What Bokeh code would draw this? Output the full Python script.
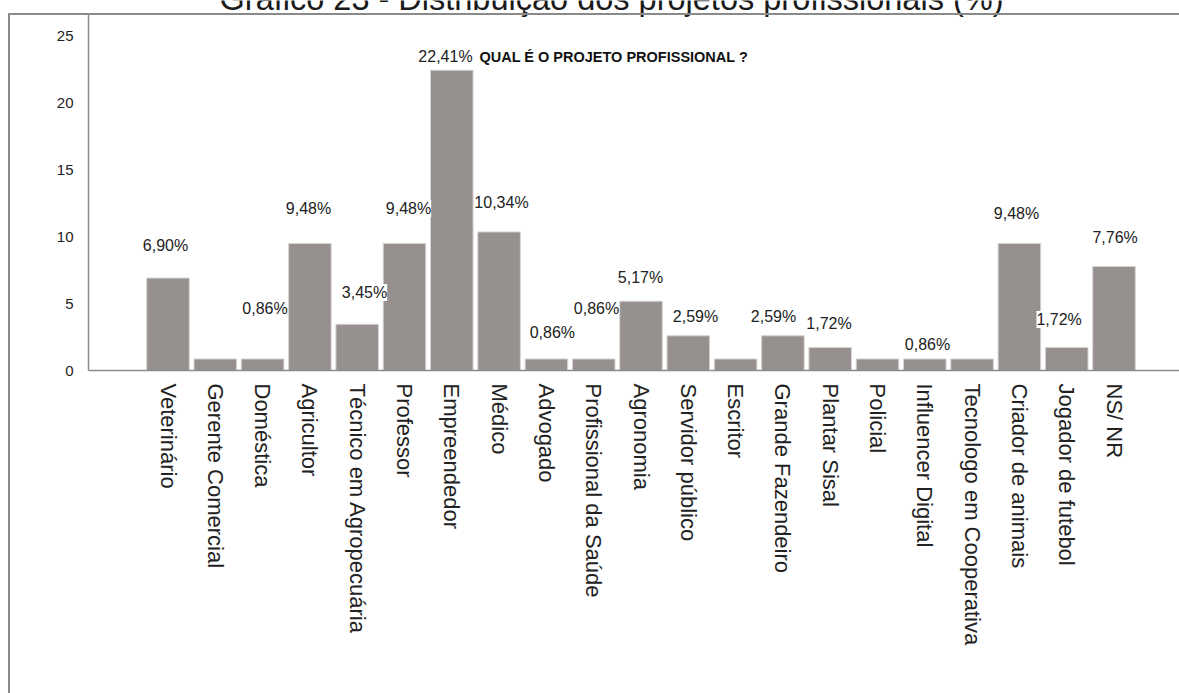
import math
from bokeh.plotting import figure
from bokeh.models import (ColumnDataSource, LabelSet, Label, FixedTicker,
                          Range1d, InlineStyleSheet)
from bokeh.core.properties import value
from bokeh.embed import file_html
from bokeh.resources import INLINE

# ---------------- data ----------------
categories = ["Veterinário", "Gerente Comercial", "Doméstica", "Agricultor",
              "Técnico em Agropecuária", "Professor", "Empreendedor", "Médico",
              "Advogado", "Profissional da Saúde", "Agronomia", "Servidor público",
              "Escritor", "Grande Fazendeiro", "Plantar Sisal", "Policial",
              "Influencer Digital", "Tecnologo em Cooperativa", "Criador de animais",
              "Jogador de futebol", "NS/ NR"]
percent = [6.90, 0.86, 0.86, 9.48, 3.45, 9.48, 22.41, 10.34, 0.86, 0.86, 5.17,
           2.59, 0.86, 2.59, 1.72, 0.86, 0.86, 0.86, 9.48, 1.72, 7.76]
shown = [True, False, True, True, True, True, True, True, True, True, True,
         True, False, True, True, False, True, False, True, True, True]
y_ticks = [0, 5, 10, 15, 20, 25]
title_text = "Gráfico 23 - Distribuição dos projetos profissionais (%)"
inner_title = "QUAL É O PROJETO PROFISSIONAL ?"

# ---------------- layout (pixels) ----------------
W, H = 1179, 693
FRAME_LEFT, AXIS_TOP, FRAME_BOTTOM = 88, 14, 370
X0_PX, X_STEP = 167.5, 47.3      # centre of first bar, bar spacing
Y_STEP = 13.4                    # pixels per percentage point

# label offsets in screen pixels (dx right, dy up) by category index
label_offsets = {0: (-2.5, 32.5), 2: (2.4, 50.5), 3: (-1.4, 35), 4: (7.3, 31.8),
                 5: (4, 35), 6: (-6.3, 13.7), 7: (2.4, 29.4), 8: (6, 26.5),
                 9: (2.8, 50.5), 10: (-0.5, 23.7), 11: (7.2, 19.3), 13: (-9.4, 19.3),
                 14: (-1.2, 24), 16: (2.7, 14.5), 18: (-2.9, 30), 19: (-7.6, 28),
                 20: (1.1, 29)}


def px_x(px):
    return (px - X0_PX) / X_STEP


def px_y(py):
    return (FRAME_BOTTOM - py) / Y_STEP


x_range = Range1d(px_x(FRAME_LEFT), px_x(W))
y_range = Range1d(0, px_y(0))

frame_css = InlineStyleSheet(css="""
:host { position: relative; }
:host::after {
  content: "";
  position: absolute;
  left: 8px; top: 13px; width: 1171px; height: 680px;
  border-top: 2px solid #8a8a8a;
  border-left: 2px solid #8a8a8a;
  box-sizing: border-box;
  pointer-events: none;
}
""")

p = figure(width=W, height=H, x_range=x_range, y_range=y_range,
           output_backend="svg", toolbar_location=None, tools="",
           stylesheets=[frame_css])
p.min_border_left = FRAME_LEFT
p.min_border_right = 0
p.min_border_top = 0
p.min_border_bottom = H - FRAME_BOTTOM
p.outline_line_color = None
p.background_fill_color = "white"
p.border_fill_color = "white"
p.xgrid.visible = False
p.ygrid.visible = False

idx = list(range(len(categories)))
src = ColumnDataSource(dict(x=idx, top=percent))
p.vbar(x="x", top="top", width=0.9, source=src, fill_color="#96918f",
       line_color="#d6d3d2", line_width=1)

# axes
xa = p.xaxis[0]
xa.ticker = FixedTicker(ticks=idx)
xa.major_label_overrides = {i: c for i, c in enumerate(categories)}
xa.major_label_orientation = -math.pi / 2
xa.major_label_text_font = "Liberation Sans"
xa.major_label_text_font_size = "22px"
xa.major_label_text_color = "#222222"
xa.major_label_standoff = 7
xa.major_tick_line_color = None
xa.minor_tick_line_color = None
xa.axis_line_color = "#8c8c8c"
xa.axis_line_width = 1.5

ya = p.yaxis[0]
ya.ticker = FixedTicker(ticks=y_ticks)
ya.bounds = (0, px_y(AXIS_TOP))
ya.major_label_text_font = "Liberation Sans"
ya.major_label_text_font_size = "15px"
ya.major_label_text_color = "#222222"
ya.major_label_standoff = 9
ya.major_tick_line_color = None
ya.minor_tick_line_color = None
ya.axis_line_color = "#8c8c8c"
ya.axis_line_width = 1.5

# value labels
lx, ly, lt, dx, dy = [], [], [], [], []
for i, (v, s) in enumerate(zip(percent, shown)):
    if not s:
        continue
    lx.append(i)
    ly.append(v)
    lt.append(f"{v:.2f}".replace(".", ",") + "%")
    ox, oy = label_offsets[i]
    dx.append(ox)
    dy.append(oy)
lsrc = ColumnDataSource(dict(x=lx, y=ly, t=lt, dx=dx, dy=dy))
p.add_layout(LabelSet(x="x", y="y", text="t", x_offset="dx", y_offset="dy",
                      source=lsrc, text_align="center", text_baseline="middle",
                      text_font=value("Liberation Sans"),
                      text_font_size=value("16px"),
                      text_color="#222222", background_fill_color="white"))

# inner chart title
p.add_layout(Label(x=px_x(479), y=px_y(56), text=inner_title,
                   text_font="Liberation Sans", text_font_style="bold",
                   text_font_size="14.5px", text_color="#111111",
                   text_align="left", text_baseline="middle"))

# page title (partly cut at top, as in the source image)
p.add_layout(Label(x=px_x(611), y=px_y(-1.5), text=title_text,
                   text_font="Liberation Sans", text_font_size="32.5px",
                   text_color="#1a1a1a", text_align="center",
                   text_baseline="alphabetic"))

open("out.html", "w").write(file_html(p, INLINE))
